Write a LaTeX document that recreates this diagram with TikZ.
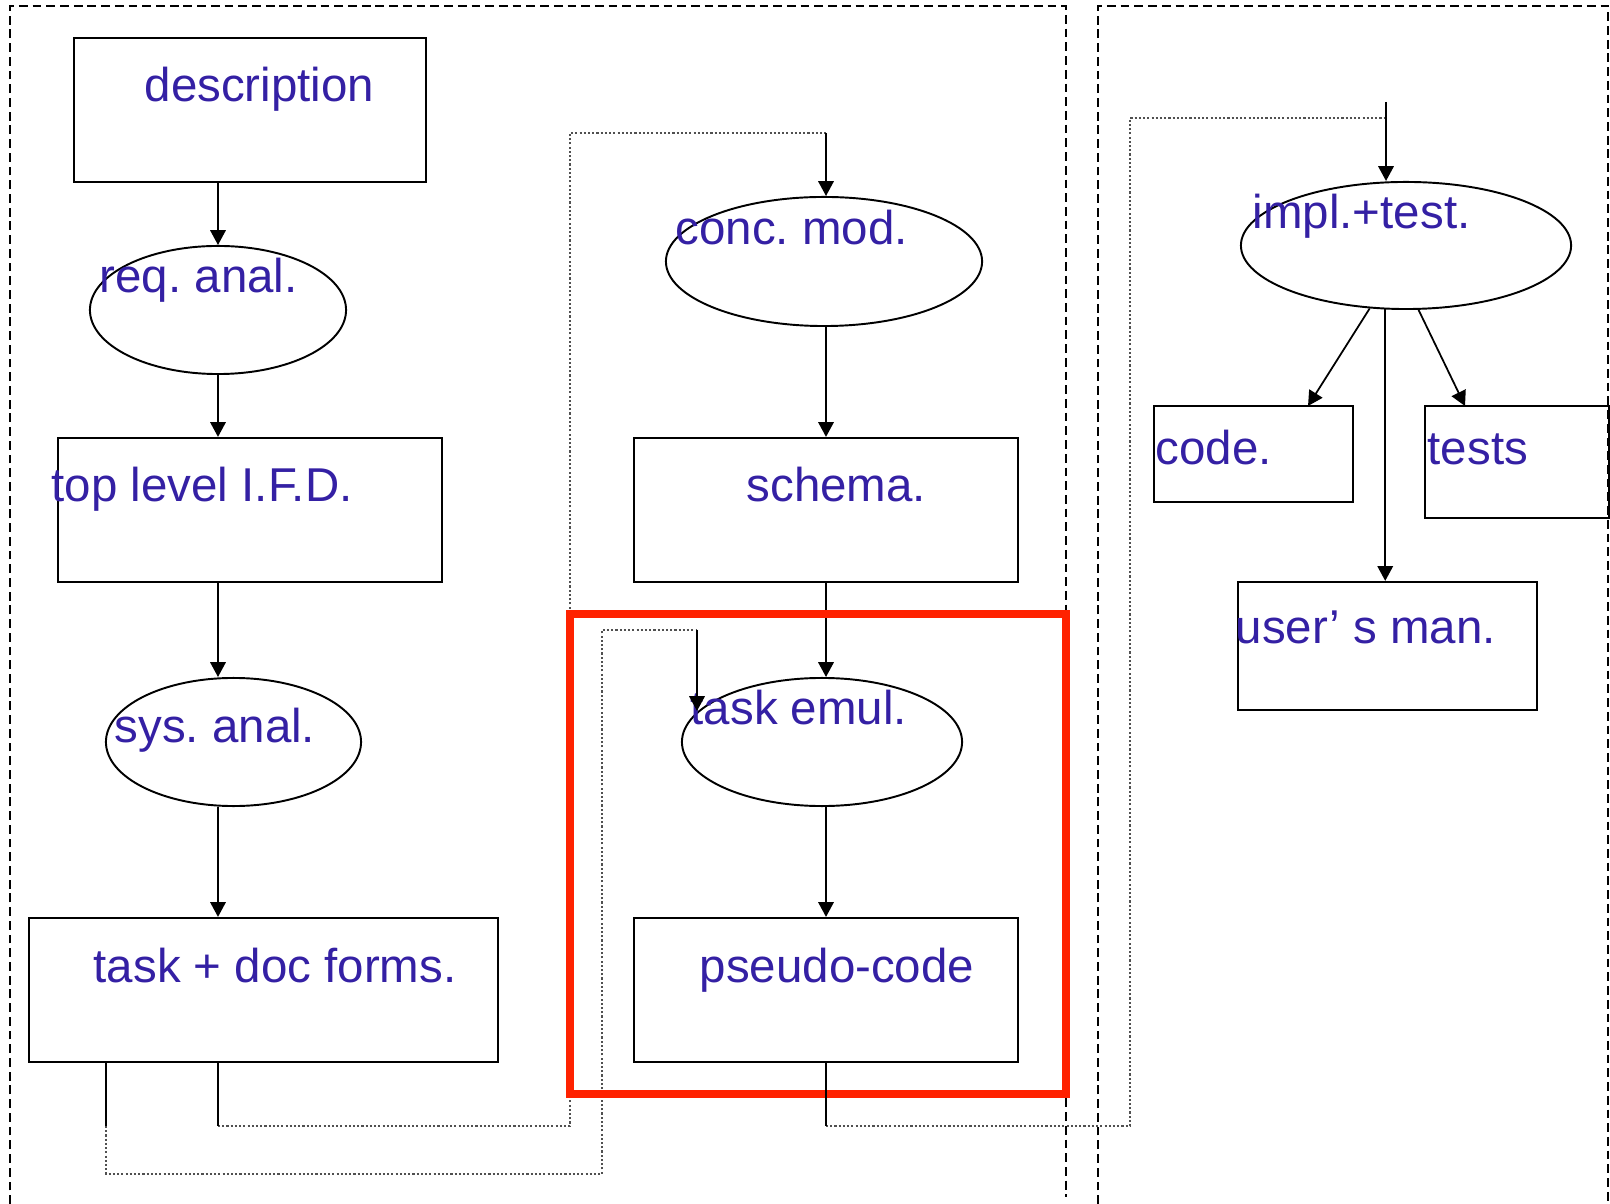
\documentclass[tikz,border=0pt]{standalone}
\usepackage{fontspec}
\setmainfont{Liberation Sans}
\usetikzlibrary{shapes.geometric,arrows.meta}
\definecolor{txtblue}{RGB}{52,32,164}
\definecolor{hilite}{RGB}{255,34,0}
\definecolor{dotgray}{RGB}{80,80,80}
\frenchspacing

\begin{document}
\begin{tikzpicture}[x=0.01cm,y=-0.01cm,
  box/.style={draw,line width=0.6pt,inner sep=0pt},
  oval/.style={draw,ellipse,line width=0.55pt,inner sep=0pt},
  lbl/.style={text=txtblue,font=\fontsize{13.5}{16}\selectfont,inner sep=0pt,anchor=base west},
  wire/.style={line width=0.5pt},
  arr/.style={line width=0.5pt,-{Triangle[length=4.2pt,width=4.4pt]}},
  dots/.style={dotgray,line width=0.35pt,dash pattern=on 0.6pt off 0.6pt},
  frame/.style={line width=0.45pt,dash pattern=on 2.5pt off 1.4pt}]
\useasboundingbox (0,0) rectangle (1610,1204);

% dashed frames
\draw[frame] (10,1204) -- (10,6) -- (1066,6) -- (1066,1197);
\draw[frame] (1098,1204) -- (1098,6) -- (1608,6) -- (1608,1204);

% left column
\node[box,minimum width=3.52cm,minimum height=1.44cm] (desc) at (250,110) {};
\node[oval,minimum width=2.56cm,minimum height=1.28cm] (reqA) at (218,310) {};
\node[box,minimum width=3.84cm,minimum height=1.44cm] (topL) at (250,510) {};
\node[oval,minimum width=2.55cm,minimum height=1.28cm] (sysA) at (233.5,742) {};
\node[box,minimum width=4.69cm,minimum height=1.44cm] (tdoc) at (263.5,990) {};

% middle column
\node[oval,minimum width=3.16cm,minimum height=1.29cm] (conc) at (824,261.5) {};
\node[box,minimum width=3.84cm,minimum height=1.44cm] (schema) at (826,510) {};
\node[oval,minimum width=2.80cm,minimum height=1.28cm] (emul) at (822,742) {};
\node[box,minimum width=3.84cm,minimum height=1.44cm] (pseudo) at (826,990) {};

% right column
\node[oval,minimum width=3.30cm,minimum height=1.27cm] (impl) at (1406,245.5) {};
\node[box,minimum width=1.99cm,minimum height=0.96cm] (code) at (1253.5,454) {};
\node[box,minimum width=1.84cm,minimum height=1.12cm] (tests) at (1517,462) {};
\node[box,minimum width=2.99cm,minimum height=1.28cm] (users) at (1387.5,646) {};

% texts
\node[lbl] (descT) at (144,102) {description};
\node[lbl] (reqT) at (99,293) {req. anal.};
\node[lbl] (topT) at (51,502) {top level I.F.D.};
\node[lbl] (sysT) at (114,742) {sys. anal.};
\node[lbl] (tdocT) at (93,982) {task + doc forms.};
\node[lbl] (concT) at (675,245) {conc. mod.};
\node[lbl] (schT) at (746,502) {schema.};
\node[lbl] (emulT) at (690,725) {task emul.};
\node[lbl] (pseuT) at (699,982) {pseudo-code};
\node[lbl] (implT) at (1252,229) {impl.+test.};
\node[lbl] (codeT) at (1155,465) {code.};
\node[lbl] (testT) at (1427,465) {tests};
\node[lbl] (userT) at (1235,643) {user’ s man.};

% flow arrows
\draw[arr] (desc.south -| reqA) -- (reqA.north);
\draw[arr] (reqA.south) -- (reqA.south |- topL.north);
\draw[arr] (topL.south -| reqA) -- (sysA.north -| reqA);
\draw[arr] (sysA.south -| reqA) -- (tdoc.north -| reqA);
\draw[arr] (conc.south -| schema) -- (schema.north);
\draw[arr] (schema.south) -- (schema.south |- emul.north);
\draw[arr] (emul.south -| schema) -- (pseudo.north);

\coordinate (codeIn) at (1308,406);
\coordinate (testIn) at (1465,406);
\draw[arr] (impl.240) -- (codeIn);
\draw[arr] (impl.281) -- (testIn);
\draw[arr] (impl.252) -- (impl.252 |- users.north);

% feedback loops
\coordinate (aDown) at (218,1126);
\coordinate (aUp) at (570,133);
\coordinate (aTop) at (826,133);
\coordinate (bDown) at (106,1126);
\coordinate (bLow) at (106,1174);
\coordinate (bUp) at (602,630);
\coordinate (bTop) at (697,630);
\coordinate (bIn) at (697,711);
\coordinate (cDown) at (826,1126);
\coordinate (cUp) at (1130,118);
\coordinate (cTop) at (1386,118);
\coordinate (cStart) at (1386,102);

\draw[dots] (aDown) -| (aUp) -- (aTop);
\draw[dots] (bDown) -- (bLow) -| (bUp) -- (bTop);
\draw[dots] (cDown) -| (cUp) -- (cTop);

\draw[hilite,line width=2.1pt] (570,614) rectangle (1066,1094);

\draw[wire] (tdoc.south -| aDown) -- (aDown);
\draw[wire] (tdoc.south -| bDown) -- (bDown);
\draw[wire] (pseudo.south) -- (cDown);
\draw[arr] (aTop) -- (conc.north -| aTop);
\draw[arr] (bTop) -- (bIn);
\draw[arr] (cStart) -- (cStart |- impl.north);

\end{tikzpicture}
\end{document}
